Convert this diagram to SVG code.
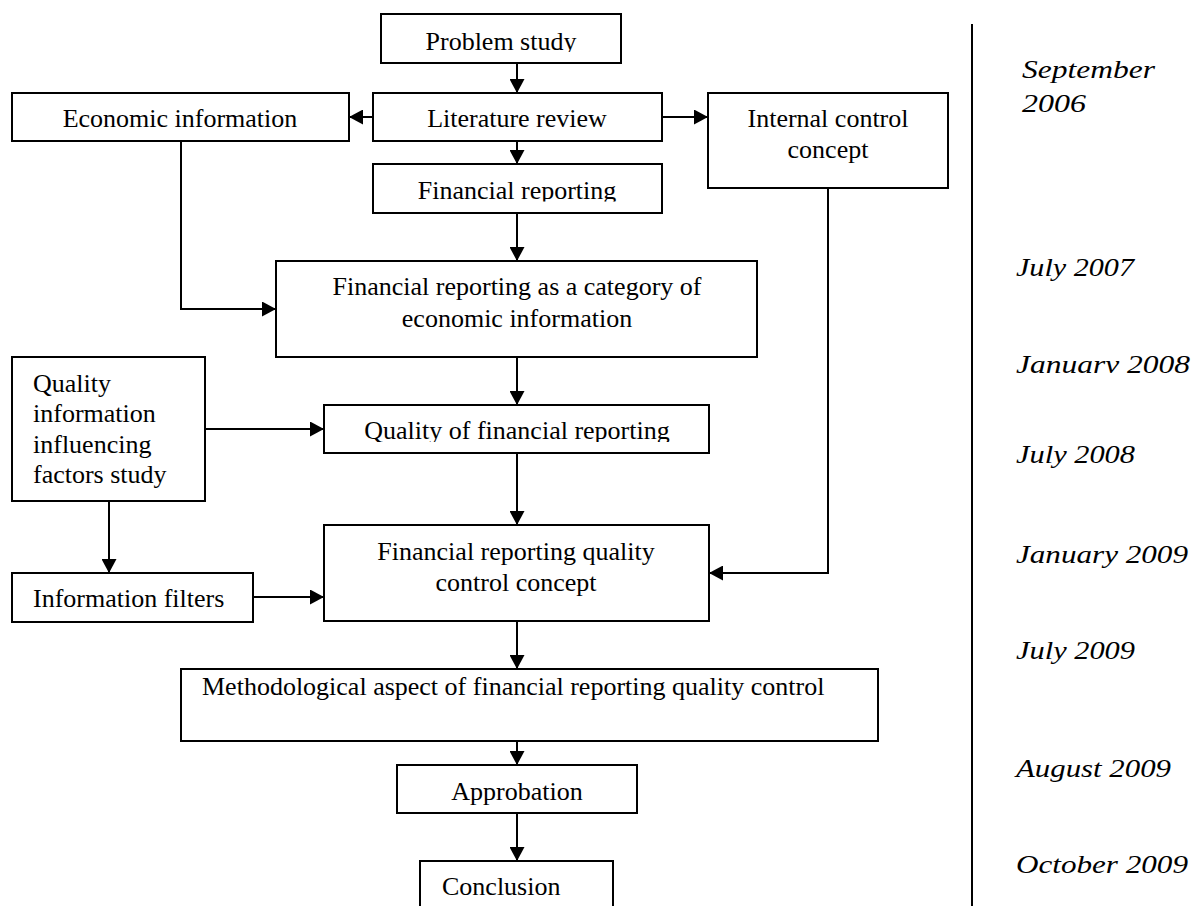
<svg xmlns="http://www.w3.org/2000/svg" width="1195" height="906" viewBox="0 0 1195 906">
<style>
  .box { fill: #ffffff; stroke: #000000; stroke-width: 2; }
  .t { font-family: "Liberation Serif", "Times New Roman", serif; font-size: 26px; fill: #000000; }
  .c { text-anchor: middle; }
  .d { font-family: "Liberation Serif", "Times New Roman", serif; font-size: 26px; font-style: italic; fill: #000000; }
  .conn { fill: none; stroke: #000000; stroke-width: 2; marker-end: url(#arr); }
</style>
<defs>
  <marker id="arr" markerUnits="userSpaceOnUse" markerWidth="14" markerHeight="15" refX="14" refY="7.5" orient="auto">
    <path d="M0,0 L14,7.5 L0,15 z" fill="#000000"/>
  </marker>
  <clipPath id="clipProblem" clipPathUnits="userSpaceOnUse"><rect x="381" y="14" width="240" height="38"/></clipPath>
  <clipPath id="clipFin" clipPathUnits="userSpaceOnUse"><rect x="373" y="164" width="289" height="37.5"/></clipPath>
  <clipPath id="clipQfr" clipPathUnits="userSpaceOnUse"><rect x="324" y="405" width="385" height="37"/></clipPath>
</defs>
<rect x="0" y="0" width="1195" height="906" fill="#ffffff"/>

<g id="connectors">
  <path class="conn" d="M517,63 L517,93"/>
  <path class="conn" d="M373,117 L349,117"/>
  <path class="conn" d="M662,117 L708,117"/>
  <path class="conn" d="M517,141 L517,164"/>
  <path class="conn" d="M517,213 L517,261"/>
  <path class="conn" d="M181,141 L181,309 L276,309"/>
  <path class="conn" d="M517,357 L517,405"/>
  <path class="conn" d="M205,429 L324,429"/>
  <path class="conn" d="M517,453 L517,525"/>
  <path class="conn" d="M109,501 L109,573"/>
  <path class="conn" d="M253,597 L324,597"/>
  <path class="conn" d="M828,188 L828,573 L709,573"/>
  <path class="conn" d="M517,621 L517,669"/>
  <path class="conn" d="M517,741 L517,765"/>
  <path class="conn" d="M517,813 L517,861"/>
</g>

<g id="problem-study">
  <rect class="box" x="381" y="14" width="240" height="49"/>
  <text class="t c" x="501" y="50" clip-path="url(#clipProblem)">Problem study</text>
</g>
<g id="literature-review">
  <rect class="box" x="373" y="93" width="289" height="48"/>
  <text class="t c" x="517" y="127">Literature review</text>
</g>
<g id="economic-information">
  <rect class="box" x="12" y="93" width="337" height="48"/>
  <text class="t c" x="180" y="127">Economic information</text>
</g>
<g id="internal-control-concept">
  <rect class="box" x="708" y="93" width="240" height="95"/>
  <text class="t c" x="828" y="127">Internal control</text>
  <text class="t c" x="828" y="158">concept</text>
</g>
<g id="financial-reporting">
  <rect class="box" x="373" y="164" width="289" height="49"/>
  <text class="t c" x="517" y="199" clip-path="url(#clipFin)">Financial reporting</text>
</g>
<g id="fr-category">
  <rect class="box" x="276" y="261" width="481" height="96"/>
  <text class="t c" x="517" y="295">Financial reporting as a category of</text>
  <text class="t c" x="517" y="327">economic information</text>
</g>
<g id="quality-information">
  <rect class="box" x="12" y="357" width="193" height="144"/>
  <text class="t" x="33" y="392">Quality</text>
  <text class="t" x="33" y="422">information</text>
  <text class="t" x="33" y="453">influencing</text>
  <text class="t" x="33" y="483">factors study</text>
</g>
<g id="quality-fr">
  <rect class="box" x="324" y="405" width="385" height="48"/>
  <text class="t c" x="517" y="439" clip-path="url(#clipQfr)">Quality of financial reporting</text>
</g>
<g id="information-filters">
  <rect class="box" x="12" y="573" width="241" height="49"/>
  <text class="t" x="33" y="607">Information filters</text>
</g>
<g id="frqc-concept">
  <rect class="box" x="324" y="525" width="385" height="96"/>
  <text class="t c" x="516" y="560">Financial reporting quality</text>
  <text class="t c" x="516" y="591">control concept</text>
</g>
<g id="methodological-aspect">
  <rect class="box" x="181" y="669" width="697" height="72"/>
  <text class="t" x="202" y="695">Methodological aspect of financial reporting quality control</text>
</g>
<g id="approbation">
  <rect class="box" x="397" y="765" width="240" height="48"/>
  <text class="t c" x="517" y="800">Approbation</text>
</g>
<g id="conclusion">
  <rect class="box" x="420" y="861" width="193" height="60"/>
  <text class="t" x="442" y="895">Conclusion</text>
</g>

<g id="timeline">
  <line x1="972" y1="24" x2="972" y2="906" stroke="#000000" stroke-width="2"/>
  <text class="d" x="1022" y="78" textLength="133" lengthAdjust="spacingAndGlyphs">September</text>
  <text class="d" x="1022" y="112" textLength="64" lengthAdjust="spacingAndGlyphs">2006</text>
  <text class="d" x="1016" y="276" textLength="118" lengthAdjust="spacingAndGlyphs">July 2007</text>
  <text class="d" x="1016" y="373" textLength="174" lengthAdjust="spacingAndGlyphs">Januarv 2008</text>
  <text class="d" x="1016" y="463" textLength="119" lengthAdjust="spacingAndGlyphs">July 2008</text>
  <text class="d" x="1016" y="563" textLength="172" lengthAdjust="spacingAndGlyphs">January 2009</text>
  <text class="d" x="1016" y="659" textLength="119" lengthAdjust="spacingAndGlyphs">July 2009</text>
  <text class="d" x="1016" y="777" textLength="155" lengthAdjust="spacingAndGlyphs">August 2009</text>
  <text class="d" x="1016" y="873" textLength="172" lengthAdjust="spacingAndGlyphs">October 2009</text>
</g>
</svg>
